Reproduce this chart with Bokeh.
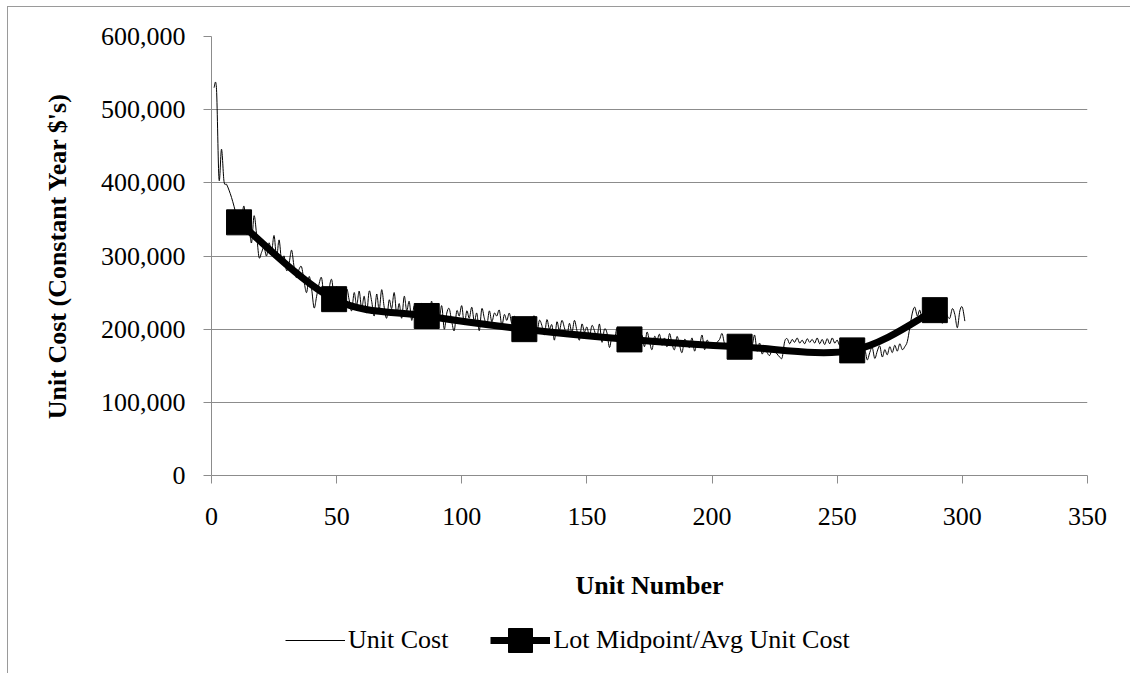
from bokeh.plotting import figure
from bokeh.layouts import column
from bokeh.models import (Range1d, SingleIntervalTicker, NumeralTickFormatter,
                          Legend, LegendItem, ColumnDataSource)
from bokeh.embed import file_html
from bokeh.resources import INLINE

# ---------------- data ----------------
unit_numbers = list(range(1, 302))
unit_cost = [
    530000, 528000, 405000, 446000, 402000, 398000, 390000, 380000, 368000, 355000,
    345000, 350000, 368000, 330000, 338000, 318000, 355000, 330000, 298000, 305000,
    312000, 300000, 318000, 305000, 328000, 298000, 322000, 293000, 300000, 280000,
    290000, 308000, 285000, 270000, 282000, 285000, 265000, 250000, 272000, 255000,
    229000, 245000, 262000, 270000, 240000, 228000, 255000, 268000, 245000, 258000,
    236000, 248000, 230000, 255000, 240000, 225000, 250000, 232000, 252000, 228000,
    245000, 222000, 252000, 238000, 218000, 248000, 226000, 254000, 230000, 215000,
    240000, 228000, 250000, 220000, 235000, 215000, 245000, 225000, 238000, 212000,
    232000, 208000, 225000, 235000, 212000, 230000, 220000, 238000, 205000, 225000,
    215000, 232000, 200000, 222000, 228000, 210000, 198000, 225000, 218000, 232000,
    206000, 225000, 215000, 230000, 210000, 222000, 198000, 228000, 215000, 205000,
    225000, 210000, 222000, 218000, 226000, 205000, 220000, 212000, 222000, 208000,
    218000, 210000, 215000, 205000, 200000, 214000, 195000, 210000, 218000, 196000,
    212000, 205000, 192000, 213000, 200000, 206000, 185000, 210000, 198000, 212000,
    202000, 190000, 208000, 195000, 212000, 198000, 185000, 207000, 196000, 203000,
    190000, 205000, 198000, 188000, 207000, 182000, 200000, 195000, 175000, 190000,
    185000, 202000, 192000, 180000, 198000, 188000, 195000, 180000, 190000, 200000,
    182000, 192000, 176000, 196000, 183000, 172000, 190000, 185000, 193000, 178000,
    188000, 176000, 194000, 180000, 172000, 190000, 178000, 168000, 186000, 180000,
    175000, 188000, 170000, 182000, 178000, 192000, 172000, 185000, 178000, 180000,
    176000, 182000, 186000, 194000, 180000, 178000, 184000, 170000, 188000, 180000,
    176000, 190000, 183000, 168000, 188000, 178000, 192000, 170000, 181000, 166000,
    175000, 168000, 164000, 172000, 170000, 166000, 162000, 161000, 183000, 187000,
    180000, 186000, 182000, 188000, 181000, 185000, 180000, 187000, 182000, 186000,
    181000, 188000, 180000, 186000, 179000, 187000, 180000, 188000, 181000, 185000,
    178000, 186000, 180000, 176000, 170000, 172000, 180000, 165000, 175000, 160000,
    172000, 158000, 168000, 175000, 160000, 170000, 177000, 162000, 172000, 165000,
    176000, 168000, 178000, 170000, 180000, 172000, 176000, 183000, 202000, 222000,
    230000, 218000, 226000, 212000, 228000, 215000, 222000, 218000, 225000, 216000,
    224000, 208000, 226000, 218000, 215000, 228000, 220000, 202000, 225000, 230000,
    211000,
]
lot_midpoints = [11, 49, 86, 125, 167, 211, 256, 289]
lot_avg_cost = [346000, 241000, 218000, 200000, 186000, 176000, 171000, 226000]

series_names = ["Unit Cost", "Lot Midpoint/Avg Unit Cost"]
x_title = "Unit Number"
y_title = "Unit Cost (Constant Year $'s)"
x_ticks_interval = 50
y_ticks_interval = 100000


def smooth_source(xs, ys):
    """Cubic Bezier segments through the data points (Excel-style smoothed line)."""
    n = len(xs)
    d = dict(x0=[], y0=[], x1=[], y1=[], cx0=[], cy0=[], cx1=[], cy1=[])
    for i in range(n - 1):
        a = max(i - 1, 0)
        b = min(i + 2, n - 1)
        d["x0"].append(xs[i]); d["y0"].append(ys[i])
        d["x1"].append(xs[i + 1]); d["y1"].append(ys[i + 1])
        d["cx0"].append(xs[i] + (xs[i + 1] - xs[a]) / 6.0)
        d["cy0"].append(ys[i] + (ys[i + 1] - ys[a]) / 6.0)
        d["cx1"].append(xs[i + 1] - (xs[b] - xs[i]) / 6.0)
        d["cy1"].append(ys[i + 1] - (ys[b] - ys[i]) / 6.0)
    return ColumnDataSource(d)


SERIF = "Liberation Serif"
GRID = "#8c8c8c"
W = 1122
H1 = 600
H2 = 66

p = figure(width=W, height=H1, output_backend="svg", toolbar_location=None,
           x_range=Range1d(0, 350), y_range=Range1d(0, 600000),
           min_border_left=203, min_border_right=43, min_border_top=29,
           min_border_bottom=H1 - 468)
p.outline_line_color = None
p.background_fill_color = "white"
p.border_fill_color = "white"

# axes
p.xaxis.ticker = SingleIntervalTicker(interval=x_ticks_interval, num_minor_ticks=0)
p.yaxis.ticker = SingleIntervalTicker(interval=y_ticks_interval, num_minor_ticks=0)
p.yaxis.formatter = NumeralTickFormatter(format="0,0")
for ax in (p.xaxis[0], p.yaxis[0]):
    ax.axis_line_color = GRID
    ax.axis_line_width = 1
    ax.major_tick_line_color = GRID
    ax.major_tick_in = 0
    ax.major_tick_out = 8
    ax.minor_tick_line_color = None
    ax.major_label_text_font = SERIF
    ax.major_label_text_font_size = "26px"
    ax.major_label_text_color = "black"
    ax.axis_label_text_font = SERIF
    ax.axis_label_text_font_size = "26px"
    ax.axis_label_text_font_style = "bold"
    ax.axis_label_text_color = "black"
p.xaxis.axis_label = x_title
p.yaxis.axis_label = y_title
p.xaxis.major_label_standoff = 24
p.yaxis.major_label_standoff = 18
p.xaxis.axis_label_standoff = 43
p.yaxis.axis_label_standoff = 26

p.xgrid.grid_line_color = None
p.ygrid.grid_line_color = GRID
p.ygrid.grid_line_width = 1
p.ygrid.ticker = SingleIntervalTicker(interval=y_ticks_interval)

# series
uc_src = smooth_source(unit_numbers, unit_cost)
p.bezier(x0="x0", y0="y0", x1="x1", y1="y1", cx0="cx0", cy0="cy0",
         cx1="cx1", cy1="cy1", source=uc_src, line_color="black", line_width=1)

lot_src = smooth_source(lot_midpoints, lot_avg_cost)
p.bezier(x0="x0", y0="y0", x1="x1", y1="y1", cx0="cx0", cy0="cy0",
         cx1="cx1", cy1="cy1", source=lot_src, line_color="black", line_width=7)
p.scatter(x=lot_midpoints, y=lot_avg_cost, marker="square", size=25,
          fill_color="black", line_color="black")

# ---------------- legend strip (below the chart) ----------------
# Its ranges are far from the data, so the proxy renderers only appear as legend glyphs.
lg = figure(width=W, height=H2, output_backend="svg", toolbar_location=None,
            x_range=Range1d(-2, -1), y_range=Range1d(-2, -1),
            min_border_left=0, min_border_right=0, min_border_top=0, min_border_bottom=0,
            x_axis_type=None, y_axis_type=None)
lg.grid.visible = False
lg.outline_line_color = None
lg.background_fill_color = "white"
lg.border_fill_color = "white"
leg_uc = lg.line(x=unit_numbers, y=unit_cost, line_color="black", line_width=1)
leg_lot_line = lg.line(x=lot_midpoints, y=lot_avg_cost, line_color="black", line_width=7)
leg_lot_mark = lg.scatter(x=lot_midpoints, y=lot_avg_cost, marker="square", size=25,
                          fill_color="black", line_color="black")
legend = Legend(items=[LegendItem(label=series_names[0], renderers=[leg_uc]),
                       LegendItem(label=series_names[1], renderers=[leg_lot_line, leg_lot_mark])],
                orientation="horizontal", location=(74, 2),
                glyph_width=60, glyph_height=62, label_text_font=SERIF,
                label_text_font_size="26px", label_text_color="black",
                label_standoff=3, spacing=42,
                border_line_color=None, background_fill_alpha=0, padding=0, margin=0)
lg.add_layout(legend, "center")

layout = column(p, lg, spacing=0,
                styles={"margin-left": "7px", "margin-top": "6px",
                        "border-left": "1px solid #9a9a9a",
                        "border-top": "1px solid #9a9a9a"})

open("out.html", "w").write(file_html(layout, INLINE))
